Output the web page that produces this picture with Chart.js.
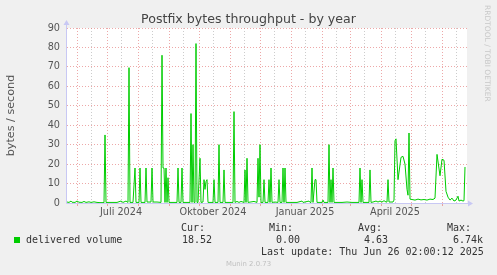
<!DOCTYPE html>
<html>
<head>
<meta charset="utf-8">
<script src="https://cdn.jsdelivr.net/npm/chart.js@4.4.1/dist/chart.umd.min.js"></script>
<style>
  html, body { margin: 0; padding: 0; background: #f0f0f0; }
  #wrap { position: relative; width: 497px; height: 275px; overflow: hidden; }
  canvas { position: absolute; left: 0; top: 0; }
  .mono { position: absolute; white-space: pre; font-family: "DejaVu Sans Mono", monospace;
          font-size: 10px; line-height: 12px; color: #333; }
  #title { position: absolute; left: 0; width: 497px; top: 11px; text-align: center;
           font-family: "DejaVu Sans", sans-serif; font-size: 12.6px; line-height: 16px; color: #444; }
  #rrd { position: absolute; left: 483px; top: 5px; writing-mode: vertical-rl;
         font-family: "DejaVu Sans", sans-serif; font-size: 7.5px; line-height: 8px; color: #c8c8c8; }
  #munin { position: absolute; left: 0; width: 497px; top: 259px; text-align: center;
           font-family: "DejaVu Sans", sans-serif; font-size: 6.9px; line-height: 10px; color: #c0c0c0; }
  #swatch { position: absolute; left: 14px; top: 237px; width: 6px; height: 6px; background: #00cc00; }
</style>
</head>
<body>
<div id="wrap">
  <canvas id="chart" width="497" height="275"></canvas>
  <div id="title">Postfix bytes throughput - by year</div>
  <div id="rrd">RRDTOOL / TOBI OETIKER</div>
  <div id="swatch"></div>
  <div class="mono" style="left:26px;top:234px">delivered volume</div>
  <div class="mono" style="left:181px;top:222px">Cur:</div>
  <div class="mono" style="left:269px;top:222px">Min:</div>
  <div class="mono" style="left:358px;top:222px">Avg:</div>
  <div class="mono" style="left:447px;top:222px">Max:</div>
  <div class="mono" style="left:182px;top:234px">18.52</div>
  <div class="mono" style="left:276px;top:234px">0.00</div>
  <div class="mono" style="left:364px;top:234px">4.63</div>
  <div class="mono" style="left:453px;top:234px">6.74k</div>
  <div class="mono" style="left:261px;top:246px">Last update: Thu Jun 26 02:00:12 2025</div>
  <div id="munin">Munin 2.0.73</div>
</div>
<script>
// days since 22 May 2024 (start of the 400 day window)
const days = [
  0, 2, 4, 5, 8, 10, 12, 15, 17, 19, 22, 24, 27, 30, 33, 37,
  38, 39, 44, 50, 54, 56, 59, 61,
  62, 63, 66, 68, 69, 72, 73, 74, 78, 79, 80, 84, 85, 86, 90, 94,
  95, 96, 97, 98, 99, 100, 101, 102,
  110, 111, 112, 114, 115, 116, 123,
  124, 125, 126, 127, 128, 129, 130,
  131, 133, 134, 136, 137, 138, 139, 140, 141, 146, 147, 148, 151, 152, 153, 156, 157, 158, 166,
  167, 168, 170, 172, 174, 177,
  178, 179, 180, 181, 187, 190,
  191, 192, 193, 194, 196, 197, 198, 201, 202, 203, 204, 205, 208, 211, 212, 213, 215, 216, 217, 218, 219,
  226, 230, 235, 236, 242, 243, 244,
  245, 246, 248, 249, 250, 255, 256, 257, 261,
  262, 263, 264, 265, 266, 267,
  275, 280, 285, 292, 293, 294, 295, 296, 302, 303, 304,
  306, 309, 311, 313, 315, 317, 319, 320, 321, 322, 326, 327,
  328, 329, 331, 334, 336, 338, 340, 341, 342, 343,
  345, 348, 351, 354, 357, 360, 363, 366, 368,
  370, 373, 375, 377, 379, 381, 383, 385, 387, 389, 391, 392, 394, 396, 397, 398
];
const bytesPerSec = [
  0.5, 0.3, 1.0, 0.4, 0.3, 1.0, 0.4, 0.3, 0.8, 0.3, 0.6, 0.3, 0.6, 0.3, 0.2, 0.2,
  35, 0.3, 0.3, 0.3, 1.0, 0.3, 1.0, 0.3,
  69.6, 0.3, 0.3, 18, 0.3, 0.3, 18, 0.3, 0.3, 18, 0.5, 0.5, 18, 0.5, 0.5, 0.3,
  76, 18, 18, 0.3, 18, 0.3, 13, 0.3,
  0.3, 18, 0.3, 0.3, 18, 0.3, 0.3,
  46, 0.3, 30, 0.3, 0.3, 82, 0.3,
  0.3, 23, 0.3, 0.5, 12, 7, 11, 12, 0.3, 0.3, 12, 0.3, 0.3, 30, 0.3, 0.3, 17, 0.3, 0.3,
  47, 0.3, 0.8, 0.3, 0.8, 0.3,
  17, 0.3, 23, 0.3, 0.8, 0.3,
  23, 3, 30, 0.3, 0.3, 12, 0.3, 0.3, 12, 0.3, 18, 0.3, 0.5, 0.3, 12, 0.3, 0.3, 18, 0.3, 18, 0.3,
  0.3, 0.3, 1, 0.3, 1, 0.3, 0.3,
  18, 0.3, 12, 12, 0.3, 0.3, 1.5, 0.3, 0.3,
  30, 0.3, 12, 0.3, 18, 0.3,
  0.3, 0.5, 0.3, 0.3, 18, 0.3, 12, 0.3, 0.3, 17, 0.3,
  0.5, 1, 0.5, 1, 0.5, 1.2, 0.5, 0.5, 12, 0.5, 0.5, 1.5,
  32, 33, 12, 23.5, 24, 20, 7, 4, 36, 2,
  1.8, 1.5, 2, 1.6, 1.8, 1.5, 2, 1.8, 2.5,
  25, 14, 22.5, 22, 6, 3, 1.5, 2.5, 1, 1.5, 3.5, 1, 1.5, 1, 1.2, 18.52
];

// grid positions (days): first of each month and the 15th
const monthStartDays = [10, 40, 71, 102, 132, 163, 193, 224, 255, 283, 314, 344, 375];
const midMonthDays = [24, 54, 85, 116, 146, 177, 207, 238, 269, 297, 328, 358, 389];
const xLabelDays = [54, 146, 238, 328];
const xLabels = ["Juli 2024", "Oktober 2024", "Januar 2025", "April 2025"];

const MAJOR = "rgba(225,110,110,0.6)";
const MINOR = "rgba(170,170,170,0.6)";
const AXIS = "#c8c8f4";

const frame = {
  id: "frame",
  beforeDraw(chart) {
    const { ctx, chartArea: a } = chart;
    ctx.save();
    ctx.fillStyle = "#ffffff";
    ctx.fillRect(a.left, a.top, a.right - a.left, a.bottom - a.top);
    ctx.restore();
  },
  beforeDatasetsDraw(chart) {
    const { ctx, chartArea: a } = chart;
    ctx.save();
    ctx.strokeStyle = AXIS;
    ctx.fillStyle = AXIS;
    ctx.lineWidth = 1;
    ctx.beginPath();
    ctx.moveTo(a.left - 0.5, a.bottom + 0.5);
    ctx.lineTo(a.right + 2, a.bottom + 0.5);
    ctx.moveTo(a.left - 0.5, a.bottom + 0.5);
    ctx.lineTo(a.left - 0.5, a.top - 4);
    ctx.stroke();
    // arrows
    ctx.beginPath();
    ctx.moveTo(a.right + 6, a.bottom + 0.5);
    ctx.lineTo(a.right + 1, a.bottom - 2.5);
    ctx.lineTo(a.right + 1, a.bottom + 3.5);
    ctx.closePath();
    ctx.fill();
    ctx.beginPath();
    ctx.moveTo(a.left - 0.5, a.top - 8);
    ctx.lineTo(a.left - 3.5, a.top - 3);
    ctx.lineTo(a.left + 2.5, a.top - 3);
    ctx.closePath();
    ctx.fill();
    ctx.restore();
  }
};

new Chart(document.getElementById("chart"), {
  type: "line",
  data: {
    datasets: [{
      label: "delivered volume",
      data: days.map((d, i) => ({ x: d, y: bytesPerSec[i] })),
      borderColor: "#00cc00",
      borderWidth: 1,
      pointRadius: 0,
      tension: 0,
      fill: false
    }]
  },
  options: {
    responsive: false,
    animation: false,
    layout: { padding: { left: 0, right: 30, top: 28, bottom: 52 } },
    plugins: { legend: { display: false }, tooltip: { enabled: false } },
    scales: {
      x: {
        type: "linear",
        min: 0,
        max: 400,
        afterBuildTicks: s => {
          s.ticks = [...monthStartDays, ...midMonthDays]
            .sort((a, b) => a - b)
            .map(v => ({ value: v }));
        },
        afterFit: s => { s.height = 20; },
        ticks: {
          autoSkip: false,
          maxRotation: 0,
          padding: 1,
          color: "#555",
          font: { family: "DejaVu Sans", size: 9.7 },
          callback: v => {
            const i = xLabelDays.indexOf(v);
            return i >= 0 ? xLabels[i] : "";
          }
        },
        grid: {
          color: c => monthStartDays.includes(c.tick.value) ? MAJOR : MINOR,
          tickColor: c => monthStartDays.includes(c.tick.value) ? MAJOR : "rgba(0,0,0,0)",
          tickLength: 3,
          lineWidth: 1
        },
        border: { display: false, dash: [1, 2] }
      },
      y: {
        min: 0,
        max: 90,
        afterFit: s => { s.width = 67; },
        ticks: {
          stepSize: 5,
          padding: 5,
          color: "#555",
          font: { family: "DejaVu Sans", size: 9.7 },
          callback: v => (v % 10 === 0 ? v : "")
        },
        grid: {
          color: c => (c.tick.value % 10 === 0 ? MAJOR : MINOR),
          tickColor: "rgba(0,0,0,0)",
          tickLength: 2,
          lineWidth: 1
        },
        border: { display: false, dash: [1, 2] },
        title: {
          display: true,
          text: "bytes / second",
          color: "#555",
          padding: { top: 4, bottom: 0 },
          font: { family: "DejaVu Sans", size: 11.2 }
        }
      }
    }
  },
  plugins: [frame]
});
</script>
</body>
</html>
